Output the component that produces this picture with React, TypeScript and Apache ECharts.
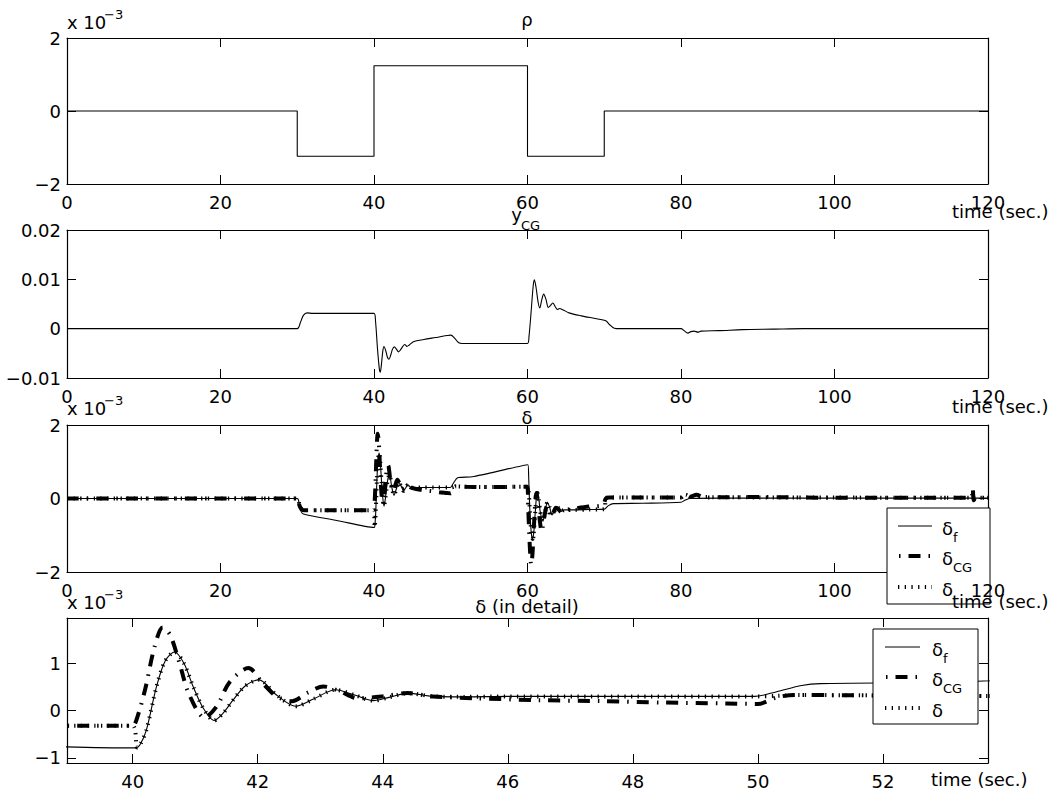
import React, { useEffect, useRef } from "react";
import * as echarts from "echarts";

// ---------- data ----------
// rho (units of 1e-3)
const rhoT = [0, 30, 40, 60, 70, 120];
const rhoV = [0, -1.24, 1.24, -1.24, 0, 0];

// y_CG
const yT = [0, 30, 30.4, 30.8, 31.3, 32, 40, 40.2, 40.45, 40.7, 40.82, 40.95, 41.15, 41.3, 41.5, 41.75, 41.95, 42.15, 42.4, 42.65, 42.9, 43.2, 43.45, 43.75, 44, 44.3, 44.6, 45.2, 46.5, 48, 49.5, 50, 50.5, 51, 51.5, 60, 60.2, 60.5, 60.75, 60.9, 61.1, 61.4, 61.6, 61.85, 62.1, 62.4, 62.7, 62.95, 63.3, 63.6, 63.9, 64.2, 64.5, 64.8, 65.4, 67, 69, 70.2, 70.7, 71.3, 72, 80, 80.4, 80.9, 81.3, 81.7, 82.2, 82.6, 85, 88, 92, 96, 120];
const yV = [0, 0, 0.0012, 0.0027, 0.0032, 0.0031, 0.0031, 0.0015, -0.004, -0.0082, -0.0088, -0.0075, -0.0045, -0.0036, -0.0043, -0.0058, -0.0062, -0.0055, -0.0042, -0.0037, -0.0041, -0.0047, -0.0043, -0.0036, -0.0032, -0.0036, -0.0033, -0.0026, -0.0022, -0.0018, -0.0014, -0.0013, -0.0019, -0.0028, -0.003, -0.003, -0.0015, 0.004, 0.0088, 0.0099, 0.0085, 0.0052, 0.0042, 0.0058, 0.007, 0.006, 0.0043, 0.0046, 0.0052, 0.0045, 0.0039, 0.0041, 0.0039, 0.0037, 0.0032, 0.0026, 0.002, 0.0016, 0.0008, 0.0001, 0, 0, -0.0004, -0.0009, -0.0006, -0.0005, -0.0007, -0.0005, -0.0004, -0.0002, -0.0001, 0, 0];

// delta_f (units of 1e-3)
const dfT = [0, 30, 30.25, 30.5, 30.8, 35, 40.05, 40.12, 40.22, 40.38, 40.52, 40.67, 40.82, 40.97, 41.13, 41.3, 41.45, 41.61, 41.8, 42.02, 42.3, 42.61, 42.9, 43.24, 43.55, 43.85, 44.1, 44.41, 44.8, 45.3, 46, 47, 48, 49, 49.95, 50.3, 50.7, 51, 53, 60.05, 60.15, 60.3, 60.5, 60.67, 60.85, 61, 61.15, 61.3, 61.5, 61.65, 62, 62.3, 62.6, 62.9, 63.2, 63.5, 63.85, 64.1, 64.4, 64.8, 66, 68, 70, 70.5, 71.2, 75, 80, 80.5, 81.2, 85, 100, 120];
const dfV = [0, 0, -0.15, -0.35, -0.42, -0.59, -0.79, -0.72, -0.41, 0.5, 1.05, 1.24, 1.0, 0.5, 0.05, -0.21, -0.05, 0.23, 0.52, 0.65, 0.33, 0.09, 0.25, 0.44, 0.33, 0.21, 0.28, 0.37, 0.3, 0.29, 0.3, 0.3, 0.3, 0.3, 0.3, 0.4, 0.53, 0.57, 0.6, 0.92, 0.6, -0.3, -0.95, -1.1, -0.85, -0.4, 0.0, 0.15, -0.05, -0.35, -0.62, -0.35, -0.1, -0.25, -0.45, -0.35, -0.22, -0.28, -0.35, -0.31, -0.31, -0.3, -0.29, -0.2, -0.14, -0.13, -0.1, -0.05, 0.0, 0.01, 0.01, 0.01];

// delta_CG (units of 1e-3)
const dcgT = [0, 30, 30.3, 30.6, 31, 40, 40.06, 40.2, 40.35, 40.48, 40.6, 40.75, 40.9, 41.15, 41.35, 41.55, 41.85, 42.1, 42.3, 42.55, 42.8, 43.05, 43.3, 43.6, 44, 44.4, 44.8, 45.5, 46.5, 47.5, 48.5, 49.5, 50, 50.3, 50.6, 52, 54, 59.95, 60.1, 60.3, 60.48, 60.65, 60.85, 61.15, 61.35, 61.6, 61.85, 62.1, 62.55, 62.8, 63.05, 63.35, 63.7, 64.05, 64.4, 64.8, 66, 68, 69.8, 70.2, 70.6, 80, 80.6, 81.2, 82, 83, 90, 100, 110, 117.8, 118, 118.15, 118.4, 120];
const dcgV = [0, 0, -0.2, -0.3, -0.32, -0.32, -0.2, 0.45, 1.35, 1.76, 1.6, 1.0, 0.35, -0.15, 0.1, 0.6, 0.9, 0.55, 0.3, 0.2, 0.38, 0.51, 0.42, 0.26, 0.3, 0.37, 0.3, 0.26, 0.22, 0.2, 0.17, 0.15, 0.14, 0.28, 0.33, 0.32, 0.31, 0.32, -0.3, -1.3, -1.8, -1.5, -0.7, 0.15, -0.05, -0.6, -0.9, -0.6, -0.2, -0.35, -0.5, -0.4, -0.25, -0.3, -0.37, -0.32, -0.28, -0.22, -0.18, 0.0, 0.03, 0.03, 0.12, 0.05, 0.1, 0.03, 0.04, 0.02, 0.02, 0.02, 0.28, -0.05, 0.02, 0.02];

// delta (units of 1e-3)
const dT = [0, 30, 30.3, 30.6, 31, 40, 40.07, 40.12, 40.22, 40.38, 40.52, 40.67, 40.82, 40.97, 41.13, 41.3, 41.45, 41.61, 41.8, 42.02, 42.3, 42.61, 42.9, 43.24, 43.55, 43.85, 44.1, 44.41, 44.8, 45.3, 46, 48, 49.95, 50.3, 50.6, 52, 54, 59.95, 60.1, 60.3, 60.5, 60.67, 60.85, 61, 61.15, 61.3, 61.5, 61.65, 62, 62.3, 62.6, 62.9, 63.2, 63.5, 63.85, 64.1, 64.4, 64.8, 66, 68, 70, 70.2, 70.6, 80, 80.6, 81.2, 90, 120];
const dV = [0, 0, -0.2, -0.3, -0.32, -0.32, -0.78, -0.72, -0.41, 0.5, 1.05, 1.24, 1.0, 0.5, 0.05, -0.21, -0.05, 0.23, 0.52, 0.65, 0.33, 0.09, 0.25, 0.44, 0.33, 0.21, 0.28, 0.37, 0.3, 0.29, 0.3, 0.3, 0.3, 0.31, 0.33, 0.32, 0.31, 0.32, 0.3, -0.3, -0.95, -1.1, -0.85, -0.4, 0.0, 0.15, -0.05, -0.35, -0.62, -0.35, -0.1, -0.25, -0.45, -0.35, -0.22, -0.28, -0.35, -0.31, -0.31, -0.3, -0.29, 0.0, 0.03, 0.03, 0.1, 0.05, 0.03, 0.02];

// tick values
const timeTicks = [0, 20, 40, 60, 80, 100, 120];
const detailTimeTicks = [40, 42, 44, 46, 48, 50, 52];
const rhoTicks = [-2, 0, 2];
const yTicks = [-0.01, 0, 0.01, 0.02];
const deltaTicks = [-2, 0, 2];
const detailTicks = [-1, 0, 1];

// ---------- chart ----------
const FONT = "DejaVu Sans";
const zip = (t: number[], v: number[]) => t.map((x, i) => [x, v[i]]);
const fmt = (v: number) => String(v).replace("-", "\u2212");

const GRIDS = [
  { left: 67, top: 38, width: 921, height: 146 },
  { left: 67, top: 230, width: 921, height: 148 },
  { left: 67, top: 425, width: 921, height: 147 },
  { left: 67, top: 618, width: 921, height: 145 },
];

function axis(gi: number, pos: string, min: number, max: number, ticks: number[], labels: boolean) {
  return {
    type: "value",
    gridIndex: gi,
    position: pos,
    min,
    max,
    axisLine: { show: true, onZero: false, lineStyle: { color: "#000", width: 1.2 } },
    axisTick: { show: true, inside: true, length: 9, customValues: ticks, lineStyle: { color: "#000", width: 1 } },
    axisLabel: {
      show: labels,
      customValues: ticks,
      color: "#000",
      fontFamily: FONT,
      fontSize: 18,
      margin: pos === "bottom" ? 9 : 6,
      formatter: fmt,
    },
    splitLine: { show: false },
  };
}

function txt(text: string, x: number, y: number, size = 18, align = "left", z = 200) {
  return {
    type: "text",
    x,
    y,
    z,
    style: { text, fontSize: size, fontFamily: FONT, fill: "#000", align, verticalAlign: "middle" },
  };
}

const CG_DASH = [12, 8, 1.5, 8];
const DOT_DASH = [1.3, 5.4];

function legend(bx: number, by: number, bw: number, bh: number, lx1: number, lx2: number, tx: number) {
  const r = [by + 18, by + 48, by + 79];
  return [
    { type: "rect", z: 100, shape: { x: bx, y: by, width: bw, height: bh }, style: { fill: "#fff", stroke: "#000", lineWidth: 1 } },
    { type: "line", z: 101, shape: { x1: lx1, y1: r[0], x2: lx2, y2: r[0] }, style: { stroke: "#000", lineWidth: 1 } },
    { type: "line", z: 101, shape: { x1: lx1, y1: r[1], x2: lx2, y2: r[1] }, style: { stroke: "#000", lineWidth: 4, lineDash: CG_DASH, lineDashOffset: 19.3 } },
    { type: "line", z: 101, shape: { x1: lx1, y1: r[2], x2: lx2, y2: r[2] }, style: { stroke: "#000", lineWidth: 4, lineDash: DOT_DASH } },
    txt("\u03b4", tx, r[0] + 2, 18, "left", 102),
    txt("f", tx + 11, r[0] + 11, 13, "left", 102),
    txt("\u03b4", tx, r[1] + 2, 18, "left", 102),
    txt("CG", tx + 11, r[1] + 11, 13, "left", 102),
    txt("\u03b4", tx, r[2] + 2, 18, "left", 102),
  ];
}

function deltaSeries(gi: number) {
  return [
    {
      name: "\u03b4f",
      type: "line",
      xAxisIndex: gi * 2,
      yAxisIndex: gi * 2,
      data: zip(dfT, dfV),
      showSymbol: false,
      symbol: "none",
      smooth: 0.3,
      lineStyle: { color: "#000", width: 1.1 },
    },
    {
      name: "\u03b4CG",
      type: "line",
      xAxisIndex: gi * 2,
      yAxisIndex: gi * 2,
      data: zip(dcgT, dcgV),
      showSymbol: false,
      symbol: "none",
      smooth: 0.3,
      lineStyle: { color: "#000", width: 4, type: CG_DASH, cap: "butt" },
    },
    {
      name: "\u03b4",
      type: "line",
      xAxisIndex: gi * 2,
      yAxisIndex: gi * 2,
      data: zip(dT, dV),
      showSymbol: false,
      symbol: "none",
      smooth: 0.3,
      lineStyle: { color: "#000", width: 4, type: DOT_DASH, cap: "butt" },
    },
  ];
}

export default function App() {
  const ref = useRef<HTMLDivElement>(null);
  useEffect(() => {
    if (!ref.current) return;
    const chart = echarts.init(ref.current, null, { renderer: "svg" });

    const xAxis: any[] = [
      axis(0, "bottom", 0, 120, timeTicks, true),
      axis(0, "top", 0, 120, timeTicks, false),
      axis(1, "bottom", 0, 120, timeTicks, true),
      axis(1, "top", 0, 120, timeTicks, false),
      axis(2, "bottom", 0, 120, timeTicks, false),
      axis(2, "top", 0, 120, timeTicks, false),
      axis(3, "bottom", 38.95, 53.68, detailTimeTicks, true),
      axis(3, "top", 38.95, 53.68, detailTimeTicks, false),
    ];
    // label-only axis for subplot 3 so tick labels sit above the legend box
    const lab: any = axis(2, "bottom", 0, 120, timeTicks, true);
    lab.axisLine = { show: false, onZero: false };
    lab.axisTick = { show: false };
    lab.z = 150;
    xAxis.push(lab);

    const yAxis: any[] = [
      axis(0, "left", -2, 2, rhoTicks, true),
      axis(0, "right", -2, 2, rhoTicks, false),
      axis(1, "left", -0.01, 0.02, yTicks, true),
      axis(1, "right", -0.01, 0.02, yTicks, false),
      axis(2, "left", -2, 2, deltaTicks, true),
      axis(2, "right", -2, 2, deltaTicks, false),
      axis(3, "left", -1.11, 1.96, detailTicks, true),
      axis(3, "right", -1.11, 1.96, detailTicks, false),
    ];

    const graphic: any[] = [
      // subplot 1
      txt("x 10", 67, 22),
      txt("\u22123", 104, 14, 13),
      txt("\u03c1", 527, 19, 18, "center"),
      txt("time (sec.)", 952, 211),
      // subplot 2
      txt("y", 522, 214, 18, "right"),
      txt("CG", 521, 225, 13),
      txt("time (sec.)", 952, 406),
      // subplot 3
      txt("x 10", 67, 408),
      txt("\u22123", 104, 400, 13),
      txt("\u03b4", 527, 417, 18, "center"),
      ...legend(887, 508, 103, 96, 898, 932, 942),
      txt("time (sec.)", 952, 601),
      // subplot 4
      txt("x 10", 67, 602),
      txt("\u22123", 104, 594, 13),
      txt("\u03b4 (in detail)", 527, 606, 18, "center"),
      ...legend(873, 629, 105, 95, 885, 920, 932),
      txt("time (sec.)", 931, 779),
    ];

    chart.setOption({
      animation: false,
      backgroundColor: "#fff",
      textStyle: { fontFamily: FONT },
      grid: GRIDS.map((g) => ({ ...g, containLabel: false })),
      xAxis,
      yAxis,
      series: [
        {
          name: "\u03c1",
          type: "line",
          xAxisIndex: 0,
          yAxisIndex: 0,
          data: zip(rhoT, rhoV),
          step: "end",
          showSymbol: false,
          symbol: "none",
          lineStyle: { color: "#000", width: 1.1 },
        },
        {
          name: "yCG",
          type: "line",
          xAxisIndex: 2,
          yAxisIndex: 2,
          data: zip(yT, yV),
          showSymbol: false,
          symbol: "none",
          smooth: 0.3,
          lineStyle: { color: "#000", width: 1.1 },
        },
        ...deltaSeries(2),
        ...deltaSeries(3),
      ],
      graphic,
    });
    return () => chart.dispose();
  }, []);
  return (
    <div
      ref={ref}
      style={{ position: "absolute", left: 0, top: 0, width: 1050, height: 793, background: "#fff" }}
    />
  );
}
